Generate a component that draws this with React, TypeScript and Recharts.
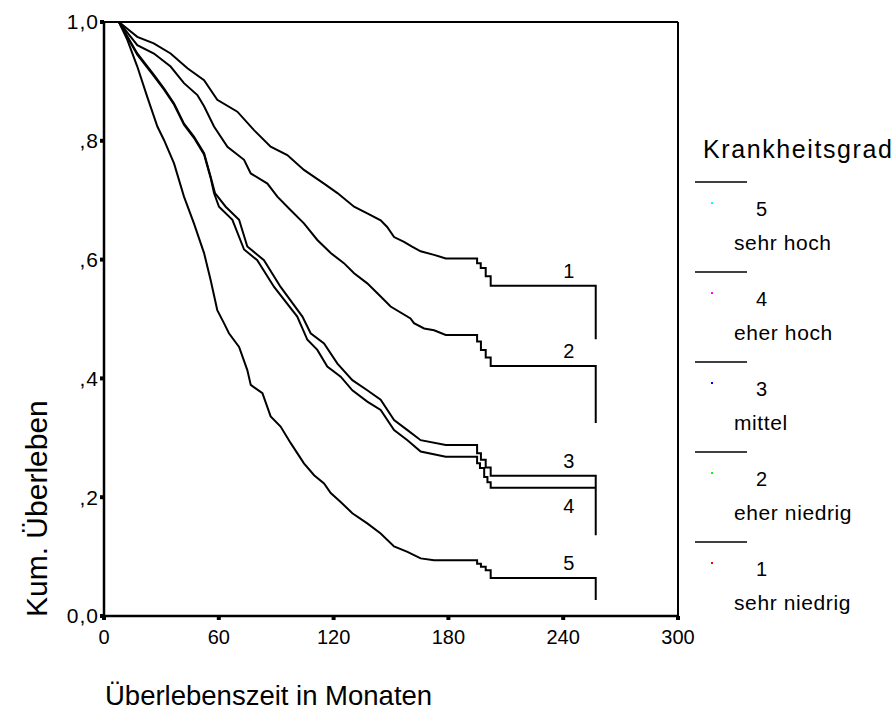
import React from 'react';
import { LineChart, Line, XAxis, YAxis, ReferenceLine } from 'recharts';

// Kaplan-Meier Schätzung je Krankheitsgrad: [Monat, kum. Überleben]
const grade1: [number, number][] = [
  [0, 1], [7.8, 1], [17.4, 0.975], [26, 0.964], [34.8, 0.947], [43.6, 0.922], [52.3, 0.902],
  [59.2, 0.869], [69.7, 0.849], [78.4, 0.818], [87.1, 0.79], [95.8, 0.776], [104.5, 0.751],
  [115, 0.728], [122, 0.712], [130.7, 0.689], [137.6, 0.678], [144.6, 0.666], [148, 0.655],
  [151.6, 0.638], [156.8, 0.63], [161, 0.622], [165.5, 0.614], [172.5, 0.608], [178.6, 0.602],
  [195, 0.602], [195, 0.594], [196.9, 0.594], [196.9, 0.586], [199.5, 0.586], [199.5, 0.572],
  [202.1, 0.572], [202.1, 0.556], [257, 0.556], [257, 0.466],
];

const grade2: [number, number][] = [
  [0, 1], [7.8, 1], [17.4, 0.961], [26.1, 0.947], [34.8, 0.925], [41.8, 0.897], [48.8, 0.877],
  [52.3, 0.858], [57.5, 0.824], [64.5, 0.79], [73.2, 0.768], [76.7, 0.745], [85.4, 0.728],
  [90.6, 0.706], [97.6, 0.683], [104.5, 0.661], [111.5, 0.633], [118.5, 0.611], [125.4, 0.594],
  [130.7, 0.577], [137.6, 0.56], [144.6, 0.538], [149.8, 0.521], [160.2, 0.501], [162, 0.493],
  [167.3, 0.484], [172.5, 0.481], [178.6, 0.473], [195, 0.473], [195, 0.462], [197, 0.462],
  [197, 0.448], [199.5, 0.448], [199.5, 0.435], [202.1, 0.435], [202.1, 0.421], [257, 0.421],
  [257, 0.325],
];

const grade3: [number, number][] = [
  [0, 1], [7.8, 1], [17.4, 0.947], [26.1, 0.911], [31.4, 0.888], [36.6, 0.863], [41.8, 0.829],
  [47, 0.807], [52.3, 0.779], [55.7, 0.74], [58, 0.712], [63.6, 0.689], [70.6, 0.667],
  [74.9, 0.622], [83.6, 0.599], [92.3, 0.554], [103.7, 0.504], [108, 0.476], [115, 0.459],
  [122, 0.425], [129.8, 0.397], [137.6, 0.38], [144.6, 0.364], [151.6, 0.33], [158.6, 0.313],
  [165.5, 0.296], [178.6, 0.288], [195, 0.288], [195, 0.274], [197, 0.274], [197, 0.263],
  [199.5, 0.263], [199.5, 0.25], [202.1, 0.25], [202.1, 0.236], [257, 0.236], [257, 0.217],
];

const grade4: [number, number][] = [
  [0, 1], [7.8, 1], [17.4, 0.945], [26.1, 0.909], [31.4, 0.886], [36.6, 0.861], [41.8, 0.827],
  [47, 0.805], [52.3, 0.777], [55.7, 0.738], [57.5, 0.712], [60.1, 0.689], [67.1, 0.667],
  [73.2, 0.617], [80.1, 0.599], [88.9, 0.554], [101, 0.504], [106.3, 0.465], [111.5, 0.448],
  [116.7, 0.42], [123.7, 0.403], [129.8, 0.38], [137.6, 0.361], [144.6, 0.347], [151.6, 0.313],
  [158.6, 0.296], [165.5, 0.277], [178.6, 0.268], [195, 0.268], [195, 0.257], [196.5, 0.257],
  [196.5, 0.249], [198.7, 0.249], [198.7, 0.234], [200.4, 0.234], [200.4, 0.225], [202.1, 0.225],
  [202.1, 0.216], [257, 0.216], [257, 0.136],
];

const grade5: [number, number][] = [
  [0, 1], [7.8, 1], [12.2, 0.97], [17.4, 0.925], [22.6, 0.874], [27.9, 0.824], [31.4, 0.801],
  [36.6, 0.762], [41.8, 0.706], [47, 0.661], [52.3, 0.611], [55.7, 0.566], [59.2, 0.515],
  [62.7, 0.493], [65.3, 0.476], [70.6, 0.453], [74.9, 0.414], [76.7, 0.389], [82.8, 0.375],
  [87.1, 0.336], [92.3, 0.319], [97.6, 0.291], [104.5, 0.257], [109.8, 0.237], [115, 0.223],
  [118.5, 0.207], [123.7, 0.192], [129.8, 0.173], [137.6, 0.156], [144.6, 0.139],
  [151.6, 0.117], [158.6, 0.108], [165.5, 0.097], [172.5, 0.094], [195, 0.094], [195, 0.088],
  [197, 0.088], [197, 0.083], [199.5, 0.083], [199.5, 0.077], [202.1, 0.077], [202.1, 0.064],
  [257, 0.064], [257, 0.027],
];

const xTicks = [0, 60, 120, 180, 240, 300];
const yTicks = [0, 0.2, 0.4, 0.6, 0.8, 1];
const yTickLabels = ['0,0', ',2', ',4', ',6', ',8', '1,0'];

const legendGrades = ['5', '4', '3', '2', '1'];
const legendLabels = ['sehr hoch', 'eher hoch', 'mittel', 'eher niedrig', 'sehr niedrig'];
const legendDots = ['#00ffff', '#ff00ff', '#0000ff', '#00ff00', '#ff0000'];

const curves = [
  { name: '1', points: grade1, below: false },
  { name: '2', points: grade2, below: false },
  { name: '3', points: grade3, below: false },
  { name: '4', points: grade4, below: true },
  { name: '5', points: grade5, below: false },
];

const FONT = '"Liberation Sans", Arial, sans-serif';

function endLabel(name: string, below: boolean, lastIndex: number) {
  return (p: any) => {
    if (p.index !== lastIndex || p.x == null) return <g key={`l-${name}-${p.index}`} />;
    return (
      <text
        key={`l-${name}`}
        x={p.x - 27}
        y={p.y + (below ? 25 : -8)}
        textAnchor="middle"
        fontSize={20}
        fill="#000"
        fontFamily={FONT}
      >
        {name}
      </text>
    );
  };
}

function YTick({ x, y, payload }: any) {
  const i = yTicks.indexOf(payload.value);
  return (
    <text x={x + 1} y={y} dy="0.355em" textAnchor="end" fontSize={21} fill="#000" fontFamily={FONT} letterSpacing={1}>
      {yTickLabels[i] ?? ''}
    </text>
  );
}

function YTitle({ viewBox }: any) {
  const x = 47;
  const y = viewBox.y + viewBox.height + 1;
  return (
    <text x={x} y={y} transform={`rotate(-90 ${x} ${y})`} fontSize={30} fill="#000" fontFamily={FONT}>
      {'Kum.  Überleben'}
    </text>
  );
}

function XTitle({ viewBox }: any) {
  return (
    <text x={viewBox.x + 1} y={viewBox.y + 89} fontSize={27.5} fill="#000" fontFamily={FONT}>
      Überlebenszeit in Monaten
    </text>
  );
}

function KMLegend() {
  return (
    <svg width={896} height={718} style={{ position: 'absolute', left: 0, top: 0, pointerEvents: 'none' }}>
      <text x={703} y={158} fontSize={25} fill="#000" fontFamily={FONT} letterSpacing={1.6}>
        Krankheitsgrad
      </text>
      {legendGrades.map((g, i) => {
        const ly = 182 + i * 90;
        return (
          <g key={g}>
            <line x1={695} x2={747} y1={ly} y2={ly} stroke="#000" strokeWidth={1.6} />
            <rect x={711} y={ly + 20} width={2} height={2} fill={legendDots[i]} />
            <text x={756} y={ly + 34} fontSize={20} fill="#000" fontFamily={FONT}>
              {g}
            </text>
            <text x={734} y={ly + 68} fontSize={21} fill="#000" fontFamily={FONT} letterSpacing={0.6}>
              {legendLabels[i]}
            </text>
          </g>
        );
      })}
    </svg>
  );
}

export default function App() {
  return (
    <div style={{ position: 'absolute', left: 0, top: 0, width: 896, height: 718, background: '#fff', fontFamily: FONT }}>
      <LineChart width={896} height={718} margin={{ top: 22, right: 218, bottom: 72, left: 44 }}>
        <XAxis
          type="number"
          dataKey="t"
          domain={[0, 300]}
          ticks={xTicks}
          tickSize={4}
          tickMargin={10}
          height={30}
          axisLine={{ stroke: '#000', strokeWidth: 2.5 }}
          tickLine={{ stroke: '#000', strokeWidth: 4 }}
          tick={{ fill: '#000', fontSize: 20, fontFamily: FONT }}
          label={<XTitle />}
          allowDuplicatedCategory={false}
        />
        <YAxis
          type="number"
          domain={[0, 1]}
          ticks={yTicks}
          tickSize={4}
          width={60}
          axisLine={{ stroke: '#000', strokeWidth: 2.5 }}
          tickLine={{ stroke: '#000', strokeWidth: 4 }}
          tick={<YTick />}
          label={<YTitle />}
        />
        <ReferenceLine y={1} stroke="#000" strokeWidth={2.2} />
        <ReferenceLine x={300} stroke="#000" strokeWidth={2} />
        {curves.map((c) => (
          <Line
            key={c.name}
            data={c.points.map(([t, s]) => ({ t, s }))}
            dataKey="s"
            type="linear"
            stroke="#000"
            strokeWidth={2}
            dot={false}
            activeDot={false}
            isAnimationActive={false}
            label={endLabel(c.name, c.below, c.points.length - 2)}
          />
        ))}
      </LineChart>
      <KMLegend />
    </div>
  );
}
